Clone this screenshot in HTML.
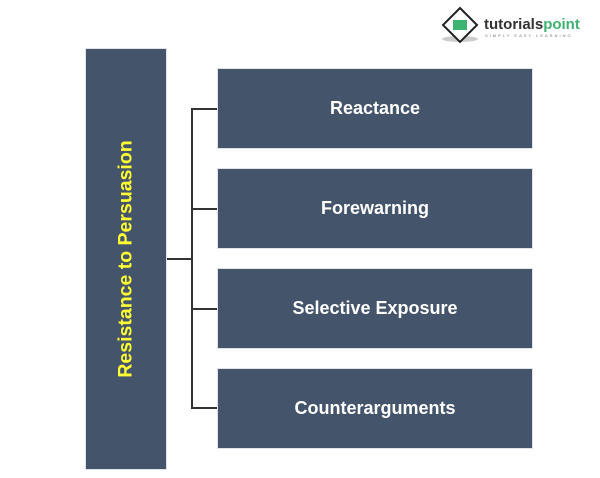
<!DOCTYPE html>
<html><head><style>
body{margin:0;width:600px;height:478px;background:#fff;position:relative;overflow:hidden;font-family:"Liberation Sans",sans-serif}
.b{position:absolute;background:#44546a;border:1px solid #dfe3ea;box-sizing:border-box;color:#fff;font-weight:bold;font-size:18px;display:flex;align-items:center;justify-content:center}
.l{position:absolute;background:#333}
</style></head><body>
<div class="b" style="left:85px;top:48px;width:82px;height:422px"></div>
<div style="position:absolute;left:126px;top:259px;transform:translate(-50%,-50%) rotate(-90deg);white-space:nowrap;color:#ffff33;font-weight:bold;font-size:19.5px">Resistance to Persuasion</div>
<div class="b" style="left:217px;top:68px;width:316px;height:81px">Reactance</div>
<div class="b" style="left:217px;top:168px;width:316px;height:81px">Forewarning</div>
<div class="b" style="left:217px;top:268px;width:316px;height:81px">Selective Exposure</div>
<div class="b" style="left:217px;top:368px;width:316px;height:81px">Counterarguments</div>
<div class="l" style="left:191px;top:108px;width:2px;height:301px"></div>
<div class="l" style="left:167px;top:258px;width:25px;height:2px"></div>
<div class="l" style="left:191px;top:108px;width:26px;height:2px"></div>
<div class="l" style="left:191px;top:208px;width:26px;height:2px"></div>
<div class="l" style="left:191px;top:308px;width:26px;height:2px"></div>
<div class="l" style="left:191px;top:407px;width:26px;height:2px"></div>
<svg style="position:absolute;left:440px;top:6px" width="150" height="40">
<ellipse cx="20" cy="33" rx="18" ry="3" fill="#ccc"/>
<polygon points="20,2 37,19 20,36 3,19" fill="#fff" stroke="#222" stroke-width="2"/>
<rect x="13" y="14" width="14" height="10" fill="#3cb371"/>
<text x="44" y="23" font-family="Liberation Sans" font-weight="bold" font-size="15" fill="#333">tutorials<tspan fill="#3cb371">point</tspan></text>
<text x="45" y="31" font-family="Liberation Sans" font-size="4" fill="#777" letter-spacing="2">SIMPLY EASY LEARNING</text>
</svg>
</body></html>
